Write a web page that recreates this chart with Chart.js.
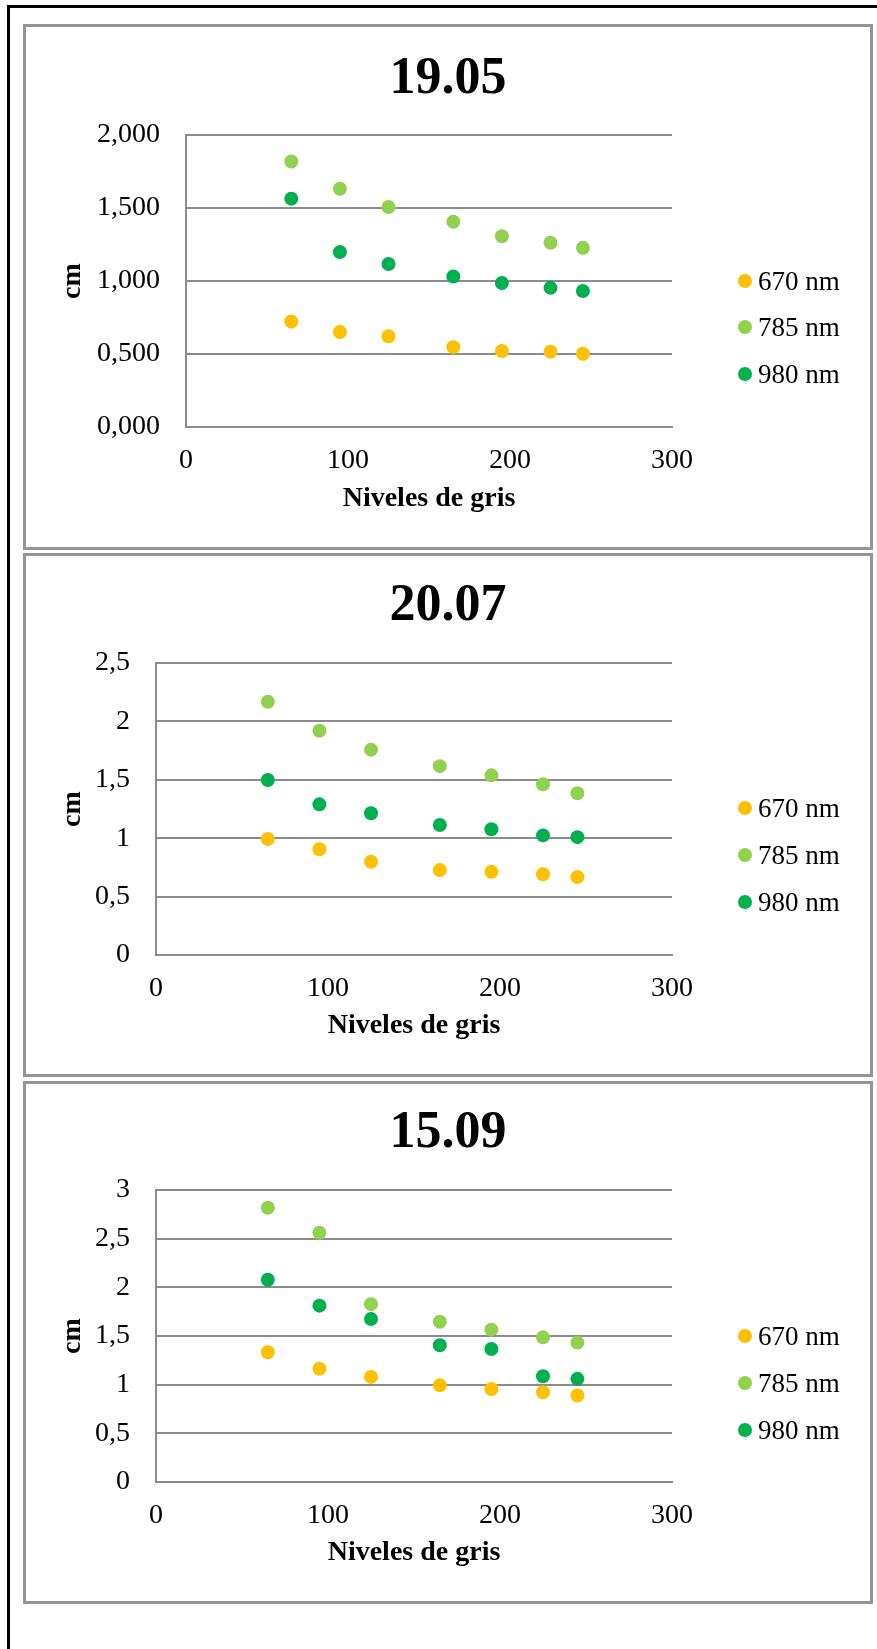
<!DOCTYPE html>
<html lang="es">
<head>
<meta charset="utf-8">
<title>Niveles de gris</title>
<script src="https://cdn.jsdelivr.net/npm/chart.js@4.4.0/dist/chart.umd.min.js"></script>
<style>
  html, body { margin: 0; padding: 0; background: #fff; overflow: hidden; }
  body { width: 877px; height: 1649px; position: relative; font-family: 'Liberation Serif', serif; }
  .frame { position: absolute; left: 7px; top: 5px; width: 900px; height: 1700px; border-left: 3px solid #000; border-top: 3px solid #000; }
  .box { position: absolute; left: 23px; width: 850px; box-sizing: border-box; border: 3px solid #949494; background: #fff; }
  .box canvas { position: absolute; left: 0; top: 0; }
  .ttl { position: absolute; left: 0; width: 844px; text-align: center; font: bold 52px/62px 'Liberation Serif', serif; color: #000; }
  .leg { position: absolute; left: 711.5px; width: 130px; height: 30px; white-space: nowrap; }
  .leg i { position: absolute; left: 0; top: 8px; width: 14px; height: 14px; border-radius: 50%; }
  .leg span { position: absolute; left: 20.5px; top: 0; font: 27px/30px 'Liberation Serif', serif; color: #000; }
</style>
</head>
<body>
<div class="frame"></div>
<div class="box" style="top:24px;height:526px"><div class="ttl" style="top:17.5px">19.05</div><canvas id="chartMay" width="844" height="520"></canvas></div>
<div class="box" style="top:553px;height:524px"><div class="ttl" style="top:16px">20.07</div><canvas id="chartJul" width="844" height="518"></canvas></div>
<div class="box" style="top:1081px;height:523px"><div class="ttl" style="top:15px">15.09</div><canvas id="chartSep" width="844" height="517"></canvas></div>
<script>
// grey levels on the x axis, same for every series
var grayLevels = [65, 95, 125, 165, 195, 225, 245];
var seriesNames = ['670 nm', '785 nm', '980 nm'];
var seriesColors = ['#FFC000', '#92D050', '#00B050'];

// 19.05
var may670 = [0.722, 0.651, 0.621, 0.547, 0.521, 0.516, 0.502];
var may785 = [1.818, 1.632, 1.507, 1.406, 1.307, 1.262, 1.227];
var may980 = [1.564, 1.198, 1.116, 1.031, 0.986, 0.953, 0.932];
// 20.07
var jul670 = [0.994, 0.905, 0.798, 0.728, 0.712, 0.691, 0.667];
var jul785 = [2.168, 1.920, 1.758, 1.617, 1.538, 1.462, 1.385];
var jul980 = [1.498, 1.290, 1.214, 1.113, 1.076, 1.024, 1.009];
// 15.09
var sep670 = [1.333, 1.163, 1.080, 0.993, 0.955, 0.922, 0.889];
var sep785 = [2.818, 2.561, 1.827, 1.646, 1.565, 1.486, 1.432];
var sep980 = [2.078, 1.812, 1.675, 1.405, 1.367, 1.086, 1.060];

var xTicks = ['0', '100', '200', '300'];
var yTicksMay = ['0,000', '0,500', '1,000', '1,500', '2,000'];
var yTicksJul = ['0', '0,5', '1', '1,5', '2', '2,5'];
var yTicksSep = ['0', '0,5', '1', '1,5', '2', '2,5', '3'];

(function () {
  'use strict';
  var axisGray = '#8c8c8c';
  var tickFont = { family: "'Liberation Serif', serif", size: 28 };
  var titleFont = { family: "'Liberation Serif', serif", size: 28, weight: 'bold' };

  function buildChart(id, series, yLabels, opts) {
    var canvas = document.getElementById(id);
    var datasets = series.map(function (ys, k) {
      return {
        label: seriesNames[k],
        data: grayLevels.map(function (x, i) { return { x: x, y: ys[i] }; }),
        backgroundColor: seriesColors[k],
        borderWidth: 0,
        pointRadius: 7,
        pointHoverRadius: 7
      };
    });
    var chart = new Chart(canvas, {
      type: 'scatter',
      data: { datasets: datasets },
      options: {
        responsive: false,
        animation: false,
        events: [],
        layout: { padding: { top: opts.top, right: 198, bottom: 31, left: 0 } },
        plugins: { legend: { display: false }, tooltip: { enabled: false } },
        scales: {
          x: {
            type: 'linear', min: 0, max: 300,
            ticks: { stepSize: 100, padding: 17, color: '#000', font: tickFont,
              callback: function (v) { return xTicks[Math.round(v / 100)]; } },
            grid: { display: false, drawTicks: false },
            border: { display: true, color: axisGray, width: 2 },
            title: { display: true, text: 'Niveles de gris', color: '#000', font: titleFont, padding: { top: 0, bottom: 0 } },
            afterFit: function (s) { s.height = opts.xh; }
          },
          y: {
            type: 'linear', min: 0, max: (yLabels.length - 1) * 0.5,
            ticks: { stepSize: 0.5, padding: 26, color: '#000', font: tickFont,
              callback: function (v) { return yLabels[Math.round(v / 0.5)]; } },
            grid: { color: axisGray, lineWidth: 2, drawTicks: false },
            border: { display: true, color: axisGray, width: 2 },
            title: { display: true, text: 'cm', color: '#000', font: titleFont, padding: { top: 30, bottom: 0 } },
            afterFit: function (s) { s.width = opts.yw; }
          }
        }
      }
    });

    // legend on the right, from the chart's own datasets
    var box = canvas.parentNode;
    chart.data.datasets.forEach(function (ds, k) {
      var row = document.createElement('div');
      row.className = 'leg';
      row.style.top = (opts.legTop + k * 46.8) + 'px';
      var dot = document.createElement('i');
      dot.style.background = ds.backgroundColor;
      var txt = document.createElement('span');
      txt.textContent = ds.label;
      row.appendChild(dot);
      row.appendChild(txt);
      box.appendChild(row);
    });
    return chart;
  }

  buildChart('chartMay', [may670, may785, may980], yTicksMay, { top: 108, xh: 89, yw: 160, legTop: 238.5 });
  buildChart('chartJul', [jul670, jul785, jul980], yTicksJul, { top: 107, xh: 88, yw: 130, legTop: 237 });
  buildChart('chartSep', [sep670, sep785, sep980], yTicksSep, { top: 106, xh: 88, yw: 130, legTop: 237 });
})();
</script>
</body>
</html>
